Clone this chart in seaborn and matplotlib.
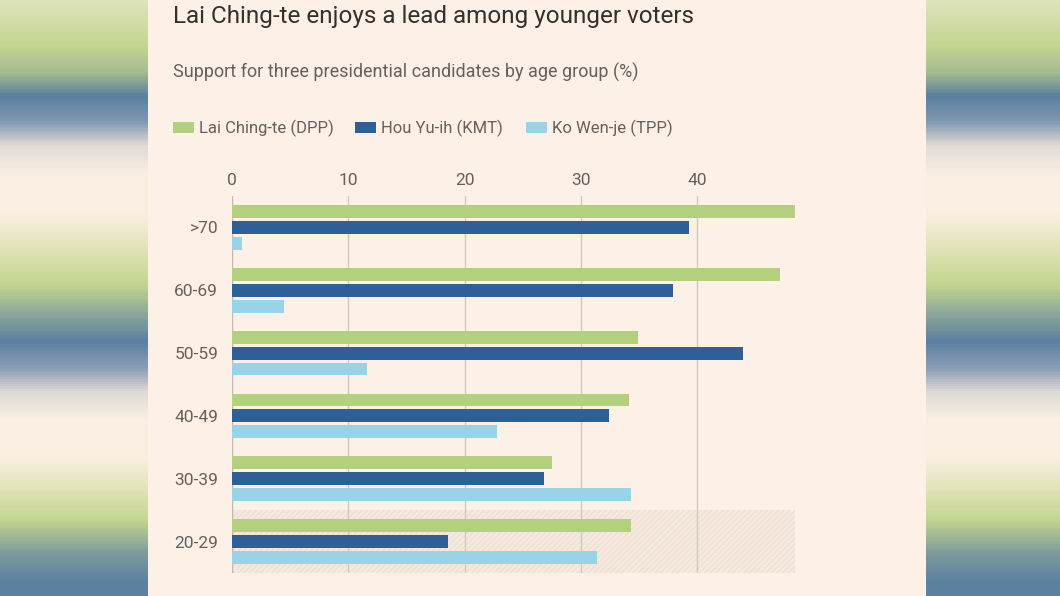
import matplotlib
matplotlib.use('Agg')

import numpy as np
import pandas as pd
import seaborn as sns
import matplotlib.pyplot as plt
from matplotlib.colors import LinearSegmentedColormap
from matplotlib.patches import Rectangle

# Dane
age_groups = [">70", "60-69", "50-59", "40-49", "30-39", "20-29"]
candidates = ["Lai Ching-te (DPP)", "Hou Yu-ih (KMT)", "Ko Wen-je (TPP)"]
lai = [48.4, 47.1, 34.9, 34.1, 27.5, 34.3]
hou = [39.3, 37.9, 43.9, 32.4, 26.8, 18.6]
ko = [0.9, 4.5, 11.6, 22.8, 34.3, 31.4]
x_ticks = [0, 10, 20, 30, 40]
highlight_group = "20-29"

colors = ["#b2d07e", "#2e5f96", "#98d3e8"]
bg = "#fdf0e6"
text_dark = "#33302e"
text_mid = "#66605c"

df = pd.DataFrame({
    "age": age_groups * 3,
    "candidate": np.repeat(candidates, len(age_groups)),
    "value": lai + hou + ko,
})

sns.set_theme(style="white")
plt.rcParams['font.family'] = ['Roboto', 'DejaVu Sans']

fig = plt.figure(figsize=(10.6, 5.96), dpi=100)
fig.patch.set_facecolor(bg)

# rozmyte pasy po bokach (tlo dekoracyjne)
stops = [(0, "#dfe3bd"), (45, "#c3d58f"), (70, "#a7bd8f"), (95, "#5b80a0"),
         (120, "#7f97b0"), (145, "#e0dbd6"), (175, "#fbefe4"), (215, "#f9eee0"),
         (245, "#e2e5bb"), (285, "#c3d58f"), (315, "#8aa59a"), (342, "#5b80a0"),
         (370, "#8fa0b6"), (392, "#ddd9d6"), (420, "#fbefe4"), (460, "#f9eee0"),
         (488, "#e3e5bc"), (521, "#c3d58f"), (555, "#7d9a9c"), (585, "#5b80a0"),
         (596, "#5b80a0")]
cmap = LinearSegmentedColormap.from_list("side", [(y / 596, c) for y, c in stops])
grad = np.linspace(0, 1, 596).reshape(-1, 1)
for x0, x1 in [(0, 148), (926, 1060)]:
    sax = fig.add_axes([x0 / 1060, 0, (x1 - x0) / 1060, 1])
    sax.imshow(grad, aspect="auto", cmap=cmap, vmin=0, vmax=1)
    sax.axis("off")

ax = fig.add_axes([232 / 1060, 1 - 573 / 596, (795 - 232) / 1060, (573 - 196) / 596])
ax.set_facecolor(bg)

sns.barplot(data=df, y="age", x="value", hue="candidate", order=age_groups,
            hue_order=candidates, palette=colors, orient="h", width=0.76,
            gap=0.19, linewidth=0, saturation=1, ax=ax, legend=False, zorder=3)

ax.set_xlim(0, max(lai))
ax.set_ylim(len(age_groups) - 0.5, -0.5)

# zaznaczona grupa
hi = age_groups.index(highlight_group)
ax.axhspan(hi - 0.5, hi + 0.5, facecolor="#f7e9dd", edgecolor="#ecdfd3",
           hatch="//////", linewidth=0, zorder=0)

for t in x_ticks:
    ax.axvline(t, color="#d3c8be" if t else "#c4b9af", lw=1, zorder=1)

ax.xaxis.tick_top()
ax.set_xticks(x_ticks)
ax.set_xticklabels([str(t) for t in x_ticks])
ax.tick_params(axis="x", length=0, pad=6, labelsize=12.5, labelcolor=text_mid)
ax.tick_params(axis="y", length=0, pad=10, labelsize=12.5, labelcolor=text_mid)
ax.set_xlabel("")
ax.set_ylabel("")
for s in ax.spines.values():
    s.set_visible(False)

# tytuly
fig.text(173 / 1060, 1 - 17 / 596, "Lai Ching-te enjoys a lead among younger voters",
         fontsize=17.5, color=text_dark, va="center", ha="left")
fig.text(173 / 1060, 1 - 72 / 596, "Support for three presidential candidates by age group (%)",
         fontsize=13, color=text_mid, va="center", ha="left")

# legenda
leg_x = [173, 355, 526]
for x, lab, c in zip(leg_x, candidates, colors):
    fig.patches.append(Rectangle((x / 1060, 1 - 133 / 596), 21 / 1060, 11 / 596,
                                 transform=fig.transFigure, facecolor=c, lw=0))
    fig.text((x + 26) / 1060, 1 - 128 / 596, lab, fontsize=12, color=text_mid,
             va="center", ha="left")

fig.savefig("out.png", dpi=100, facecolor=bg)
